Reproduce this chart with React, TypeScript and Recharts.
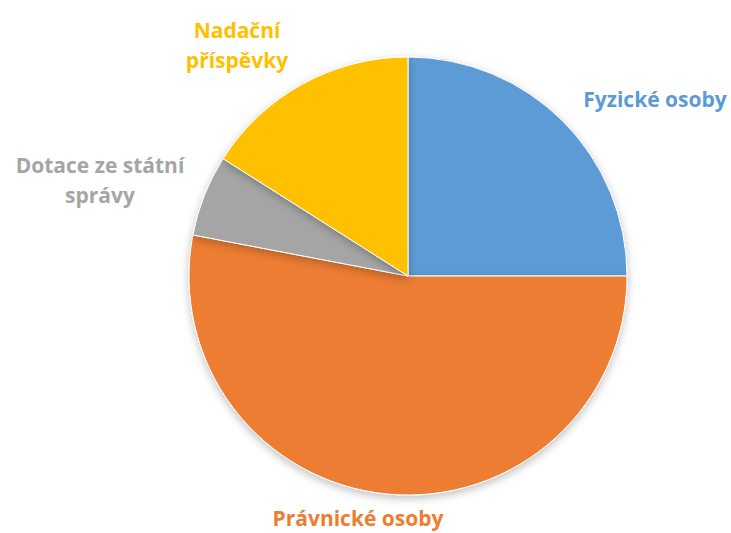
import { Cell, Pie, PieChart } from 'recharts';

const categories = ['Fyzické osoby', 'Právnické osoby', 'Dotace ze státní správy', 'Nadační příspěvky'];
const values = [25, 53, 6, 16];
const labelLines = [['Fyzické osoby'], ['Právnické osoby'], ['Dotace ze státní', 'správy'], ['Nadační', 'příspěvky']];

const colors = ['#5B9BD5', '#ED7D31', '#A5A5A5', '#FFC000'];
// label centre offsets from the pie centre
const labelOffsets = [
  { dx: 247, dy: -177 },
  { dx: -50, dy: 242 },
  { dx: -308, dy: -96 },
  { dx: -171, dy: -231 },
];

const data = categories.map((name, i) => ({ name, value: values[i] }));

const renderLabel = (props: any) => {
  const { cx, cy, index } = props;
  const off = labelOffsets[index];
  const lines = labelLines[index];
  const lineH = 30;
  const top = cy + off.dy - ((lines.length - 1) * lineH) / 2;
  return (
    <text
      x={cx + off.dx}
      y={top}
      fill={colors[index]}
      textAnchor="middle"
      dominantBaseline="central"
      fontFamily="'Open Sans', sans-serif"
      fontWeight="bold"
      fontSize={21}
    >
      {lines.map((l, j) => (
        <tspan key={j} x={cx + off.dx} dy={j === 0 ? 0 : lineH}>
          {l}
        </tspan>
      ))}
    </text>
  );
};

export default function App() {
  return (
    <div style={{ position: 'absolute', left: 0, top: 0, width: 731, height: 533, background: '#fff' }}>
      <PieChart width={731} height={533} margin={{ top: 0, right: 0, bottom: 0, left: 0 }}>
        <defs>
          <filter id="pieShadow" x="-10%" y="-10%" width="120%" height="125%">
            <feDropShadow dx="0" dy="3" stdDeviation="4" floodColor="#000" floodOpacity="0.25" />
          </filter>
        </defs>
        <Pie
          data={data}
          dataKey="value"
          nameKey="name"
          cx={408}
          cy={276}
          outerRadius={219}
          startAngle={90}
          endAngle={-270}
          stroke="#fff"
          strokeWidth={1}
          label={renderLabel}
          labelLine={false}
          isAnimationActive={false}
          style={{ filter: 'url(#pieShadow)' }}
        >
          {data.map((d, i) => (
            <Cell key={d.name} fill={colors[i]} />
          ))}
        </Pie>
      </PieChart>
    </div>
  );
}
